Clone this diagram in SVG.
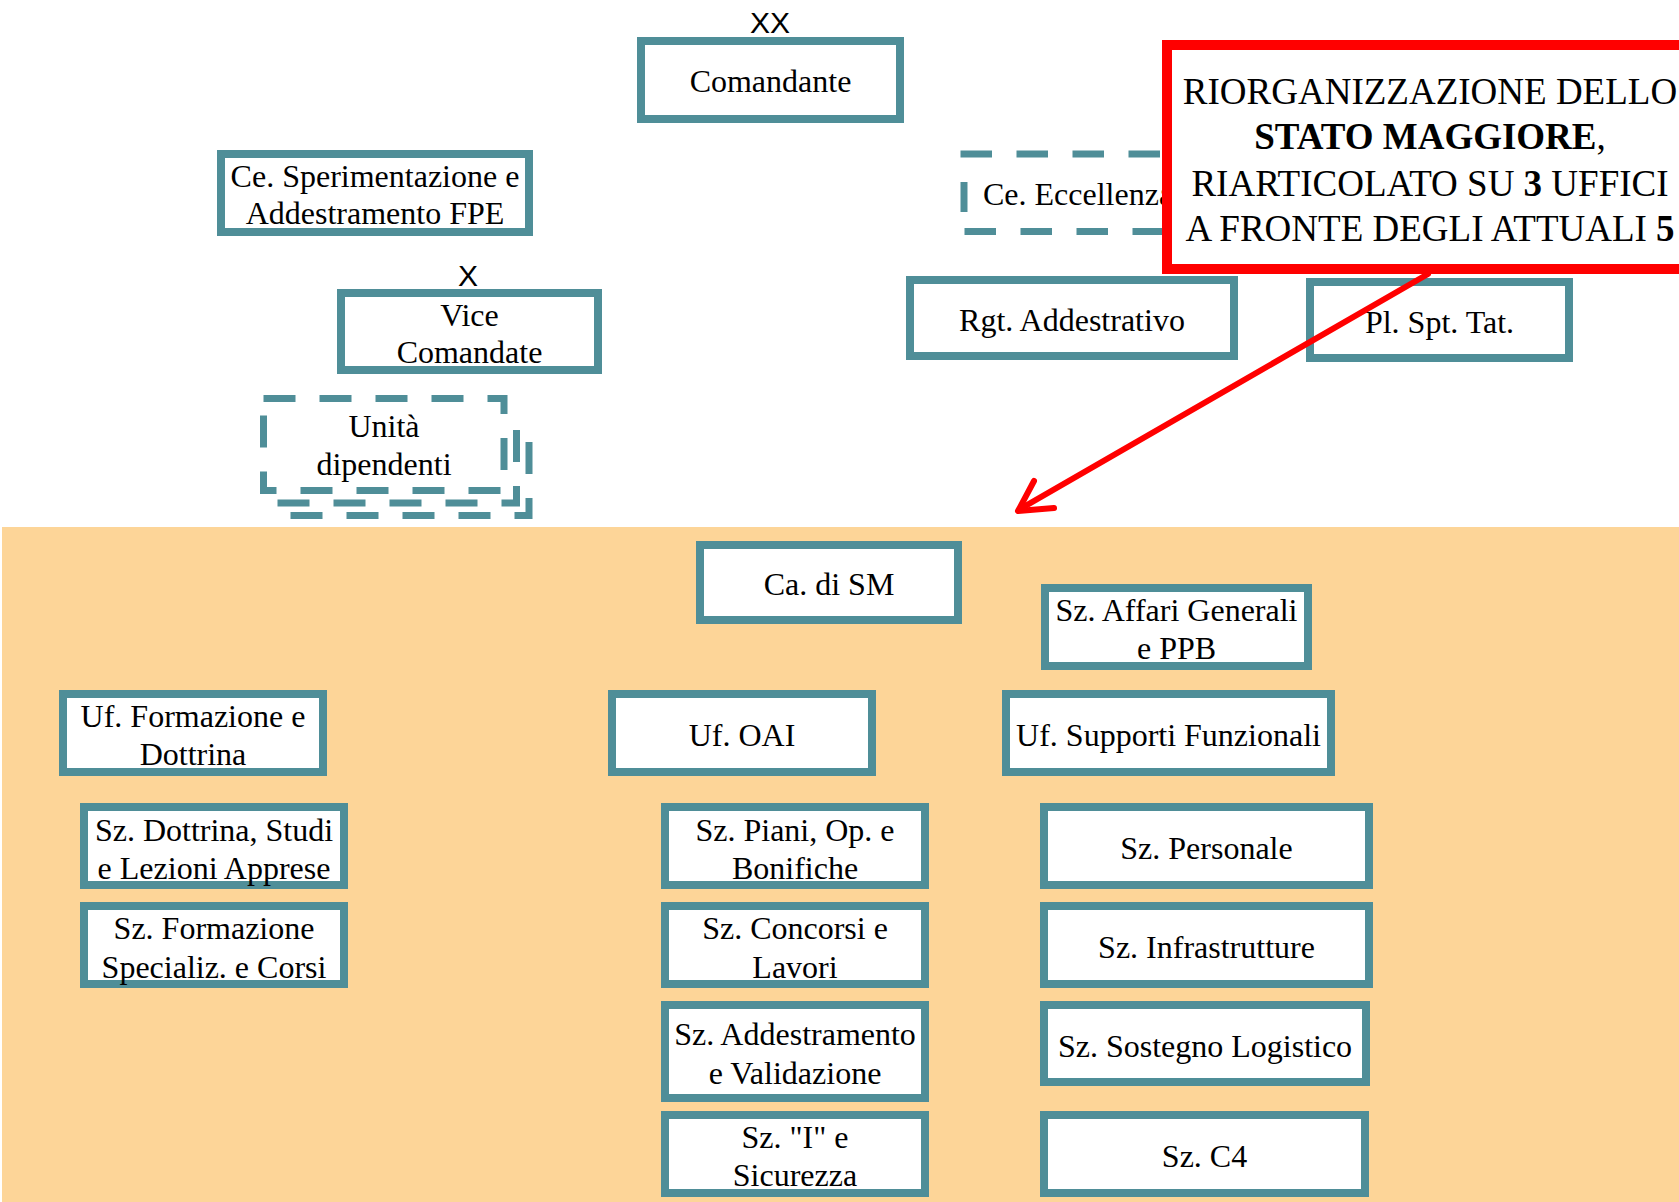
<svg xmlns="http://www.w3.org/2000/svg" width="1679" height="1202" viewBox="0 0 1679 1202">
<style>
.box{fill:#fff;stroke:#4F8E98;stroke-width:8}
.dsh{fill:#fff;stroke:#4F8E98;stroke-width:7;stroke-dasharray:32 24}
.dp{fill:none;stroke:#4F8E98;stroke-width:7;stroke-dasharray:32 24}
.dl{fill:none;stroke:#4F8E98;stroke-width:7;stroke-dasharray:31.5 24.5}
.t{font-family:"Liberation Serif","Times New Roman",serif;font-size:32px;fill:#000;text-anchor:middle}
.s{font-family:"Liberation Sans",Arial,sans-serif;font-size:30px;fill:#000;text-anchor:middle}
.r{font-family:"Liberation Serif","Times New Roman",serif;font-size:37px;fill:#000;text-anchor:middle}
</style>
<rect x="0" y="0" width="1679" height="1202" fill="#fff"/>
<rect id="area-sm" x="2" y="527" width="1677" height="675" fill="#FDD598"/>

<g id="comandante">
<text class="s" x="770" y="33">XX</text>
<rect class="box" x="641" y="41" width="259" height="78"/>
<text class="t" x="770.5" y="92">Comandante</text>
</g>
<g id="ce-sperimentazione">
<rect class="box" x="221" y="154" width="308" height="78"/>
<text class="t" x="375" y="187">Ce. Sperimentazione e</text>
<text class="t" x="375" y="224">Addestramento FPE</text>
</g>
<g id="vice-comandante">
<text class="s" x="468" y="286">X</text>
<rect class="box" x="341" y="293" width="257" height="77"/>
<text class="t" x="469.5" y="326">Vice</text>
<text class="t" x="469.5" y="363">Comandate</text>
</g>
<g id="unita-dipendenti">
<path class="dp" d="M529,442 V515.5 H288.5 V504"/>
<path class="dp" d="M516.5,430 V503 H276 V493"/>
<rect class="dsh" x="263.5" y="398.5" width="240.5" height="92"/>
<text class="t" x="384" y="437">Unità</text>
<text class="t" x="384" y="475">dipendenti</text>
</g>
<g id="ce-eccellenza">
<path class="dl" d="M960.5,154 H1170 M964.5,231.5 H1170"/>
<path d="M964,182 V212" stroke="#4F8E98" stroke-width="7" fill="none"/>
<text class="t" x="983" y="205" style="text-anchor:start">Ce. Eccellenza</text>
</g>
<g id="rgt-addestrativo">
<rect class="box" x="910" y="280" width="324" height="76"/>
<text class="t" x="1072" y="331">Rgt. Addestrativo</text>
</g>
<g id="pl-spt-tat">
<rect class="box" x="1310" y="282" width="259" height="76"/>
<text class="t" x="1439.5" y="333">Pl. Spt. Tat.</text>
</g>
<g id="callout">
<rect x="1167" y="45" width="540" height="224" fill="#fff" stroke="#FF0000" stroke-width="10"/>
<text class="r" x="1430" y="104">RIORGANIZZAZIONE DELLO</text>
<text class="r" x="1430" y="149"><tspan font-weight="bold">STATO MAGGIORE</tspan>,</text>
<text class="r" x="1430" y="196">RIARTICOLATO SU <tspan font-weight="bold">3</tspan> UFFICI</text>
<text class="r" x="1430" y="241">A FRONTE DEGLI ATTUALI <tspan font-weight="bold">5</tspan></text>
</g>

<g id="ca-di-sm">
<rect class="box" x="700" y="545" width="258" height="75"/>
<text class="t" x="829" y="595">Ca. di SM</text>
</g>
<g id="sz-affari-generali">
<rect class="box" x="1045" y="588" width="263" height="78"/>
<text class="t" x="1176.5" y="621">Sz. Affari Generali</text>
<text class="t" x="1176.5" y="659">e PPB</text>
</g>
<g id="uf-formazione">
<rect class="box" x="63" y="694" width="260" height="78"/>
<text class="t" x="193" y="727">Uf. Formazione e</text>
<text class="t" x="193" y="765">Dottrina</text>
</g>
<g id="uf-oai">
<rect class="box" x="612" y="694" width="260" height="78"/>
<text class="t" x="742" y="746">Uf. OAI</text>
</g>
<g id="uf-supporti">
<rect class="box" x="1006" y="694" width="325" height="78"/>
<text class="t" x="1168.5" y="746">Uf. Supporti Funzionali</text>
</g>
<g id="sz-dottrina">
<rect class="box" x="84" y="807" width="260" height="78"/>
<text class="t" x="214" y="841">Sz. Dottrina, Studi</text>
<text class="t" x="214" y="879">e Lezioni Apprese</text>
</g>
<g id="sz-formazione">
<rect class="box" x="84" y="906" width="260" height="78"/>
<text class="t" x="214" y="939">Sz. Formazione</text>
<text class="t" x="214" y="978">Specializ. e Corsi</text>
</g>
<g id="sz-piani">
<rect class="box" x="665" y="807" width="260" height="78"/>
<text class="t" x="795" y="841">Sz. Piani, Op. e</text>
<text class="t" x="795" y="879">Bonifiche</text>
</g>
<g id="sz-concorsi">
<rect class="box" x="665" y="906" width="260" height="78"/>
<text class="t" x="795" y="939">Sz. Concorsi e</text>
<text class="t" x="795" y="978">Lavori</text>
</g>
<g id="sz-addestramento">
<rect class="box" x="665" y="1005" width="260" height="93"/>
<text class="t" x="795" y="1045">Sz. Addestramento</text>
<text class="t" x="795" y="1084">e Validazione</text>
</g>
<g id="sz-i-sicurezza">
<rect class="box" x="665" y="1115" width="260" height="78"/>
<text class="t" x="795" y="1148">Sz. &quot;I&quot; e</text>
<text class="t" x="795" y="1186">Sicurezza</text>
</g>
<g id="sz-personale">
<rect class="box" x="1044" y="807" width="325" height="78"/>
<text class="t" x="1206.5" y="859">Sz. Personale</text>
</g>
<g id="sz-infrastrutture">
<rect class="box" x="1044" y="906" width="325" height="78"/>
<text class="t" x="1206.5" y="958">Sz. Infrastrutture</text>
</g>
<g id="sz-sostegno">
<rect class="box" x="1044" y="1005" width="322" height="77"/>
<text class="t" x="1205" y="1057">Sz. Sostegno Logistico</text>
</g>
<g id="sz-c4">
<rect class="box" x="1044" y="1115" width="321" height="78"/>
<text class="t" x="1204.5" y="1167">Sz. C4</text>
</g>

<g id="connectors" fill="none" stroke="#FF0000" stroke-width="6" stroke-linecap="round" stroke-linejoin="round">
<line x1="1428" y1="274" x2="1020" y2="509"/>
<polyline points="1034,481 1018,511 1054,508"/>
</g>
</svg>
